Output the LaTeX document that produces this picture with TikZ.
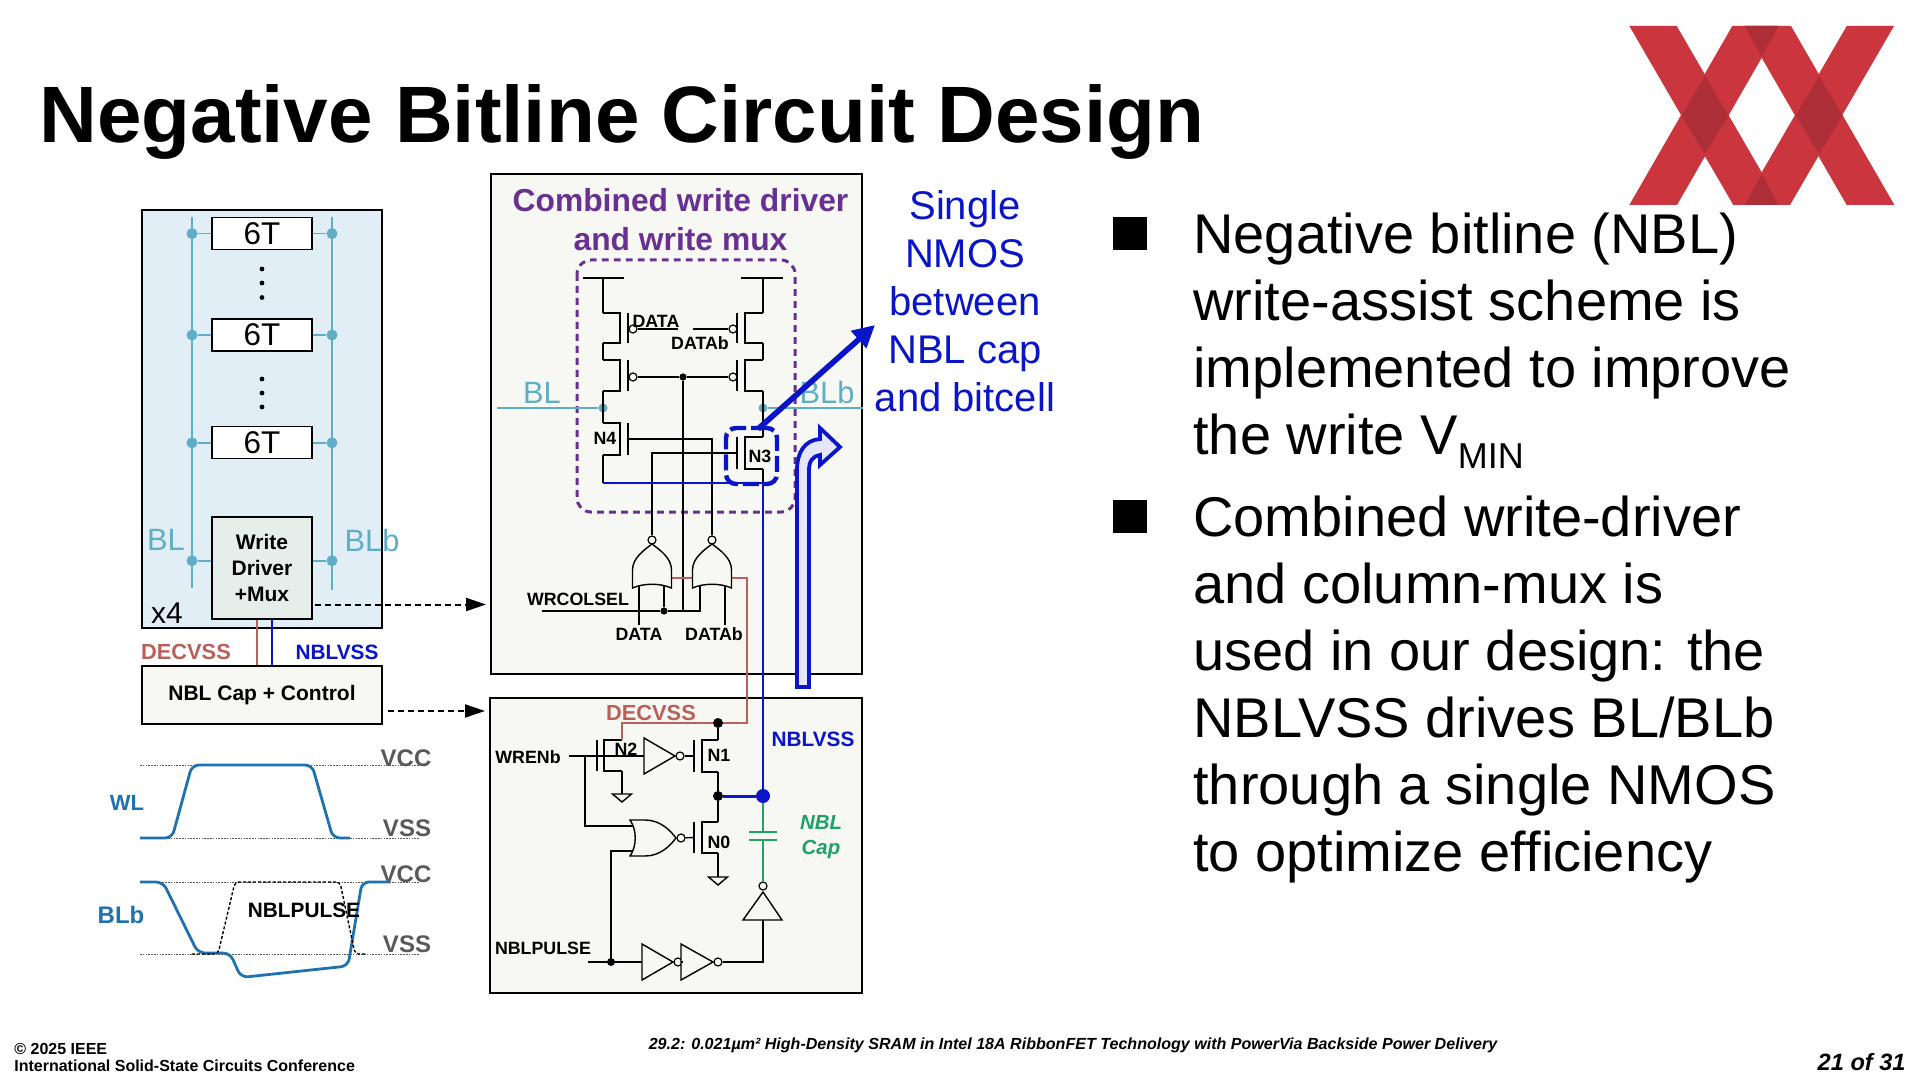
\documentclass[tikz,border=0pt]{standalone}
\usepackage{fontspec}
\setmainfont{Liberation Sans}
\usepackage{xcolor}
\usetikzlibrary{positioning}
\usetikzlibrary{shapes,arrows.meta}
\definecolor{panelgrey}{HTML}{F7F7F3}
\definecolor{panelblue}{HTML}{E2EEF6}
\definecolor{muxgrey}{HTML}{E6EEEC}
\definecolor{railteal}{HTML}{5FAEC6}
\definecolor{decred}{HTML}{B9605B}
\definecolor{nblblue}{HTML}{0A14C8}
\definecolor{muxpurple}{HTML}{673092}
\definecolor{capgreen}{HTML}{1FA265}
\definecolor{wavblue}{HTML}{1F72B0}
\definecolor{railgrey}{HTML}{595959}
\definecolor{logored}{HTML}{CB363E}
\definecolor{logodark}{HTML}{AD2E37}
\newcommand{\fsz}[1]{\fontsize{#1}{#1}\selectfont}
\tikzset{%
  block/.style    = {draw, line width=1pt, inner sep=0pt, fill=panelgrey},
  cellbox/.style  = {draw, line width=.6pt, inner sep=0pt, fill=white, minimum width=50pt,
    minimum height=16pt, font=\fsz{15.7}},
  lab/.style      = {inner sep=0pt, font=\bfseries\fsz{8.9}},
  rail/.style     = {railteal, line width=.9pt},
  tealdot/.style  = {circle, fill=railteal, inner sep=0pt, minimum size=5.5pt},
  blackdot/.style = {circle, fill=black, inner sep=0pt, minimum size=3.6pt},
  bub/.style      = {circle, draw, line width=.6pt, fill=panelgrey, inner sep=0pt, minimum size=4pt},
  wire/.style     = {line width=.7pt, line join=miter},
  gategrey/.style = {wire, fill=panelgrey},
  decw/.style     = {decred, line width=1.2pt},
  nblw/.style     = {nblblue, line width=1.3pt},
  capw/.style     = {capgreen, line width=.8pt},
  wave/.style     = {wavblue, line width=1.4pt, rounded corners=3.5pt},
  levl/.style     = {railgrey, line width=.5pt, dash pattern=on .8pt off .6pt},
  dasharr/.style  = {->, dashed, line width=1pt, dash pattern=on 3pt off 2pt, shorten >=2pt}
}

% transistor: channel and gate bar, leaves name-d, name-s, name-g
\newcommand{\fet}[6]{%
  \draw[wire] (#2,#5) -- (#3,#5) -- (#3,#6) -- (#2,#6);
  \draw[wire] (#4,#5) -- (#4,#6);
  \coordinate (#1-d) at (#2,#5);
  \coordinate (#1-s) at (#2,#6);
  \coordinate (#1-g) at (#4,#5/2+#6/2);
}

\begin{document}
\begin{tikzpicture}[x=.5pt, y=-.5pt, >={Triangle[length=10pt,width=6.5pt]}]
  \useasboundingbox (0,0) rectangle (1920,1080);

  \node[inner sep=0pt, anchor=base west, font=\bfseries\fsz{40}] (title) at (39,143) {Negative Bitline Circuit Design};

  % logo
  \foreach \xa/\xb/\xc in {1629.3/1676.7/1733.3, 1732.3/1780/1629.3, 1743.3/1791/1846.7, 1846.7/1894/1742.7} {
    \fill[logored] (\xa,26) -- (\xb,26) -- (\xb+\xc-\xa,205) -- (\xc,205) -- cycle;
  }
  \foreach \dx in {1705, 1819} {
    \fill[logodark] (\dx-23.5,115.5) -- (\dx,76) -- (\dx+23.5,115.5) -- (\dx,154) -- cycle;
  }
  \fill[logodark] (1745,26) -- (1778.3,26) -- (1761.7,56.7) -- cycle;
  \fill[logodark] (1745,205) -- (1778.3,205) -- (1761.7,174) -- cycle;

  % column
  \node[block, fill=panelblue, minimum width=120pt, minimum height=209pt] (col) at (262,419) {};
  \node[cellbox] (cella) at (262,233.6) {6T};
  \node[cellbox] (cellb) at (262,335) {6T};
  \node[cellbox] (cellc) at (262,442.8) {6T};
  \node[block, fill=muxgrey, minimum width=50pt, minimum height=51pt, align=center,
    font=\bfseries\fontsize{10.5}{13}\selectfont] (celld) at (262,567.6) {Write\\Driver\\+Mux};
  \draw[rail] (192,217) -- (192,588);
  \draw[rail] (332,217) -- (332,590);
  \foreach \n/\y in {a/233.6, b/335, c/442.8, d/560.7} {
    \node[tealdot] (bl\n) at (192,\y) {};
    \node[tealdot] (blb\n) at (332,\y) {};
    \draw[rail] (bl\n) -- (bl\n -| cell\n.west);
    \draw[rail] (blb\n) -- (blb\n -| cell\n.east);
  }
  \foreach \y in {269, 283, 297.5, 379, 393, 407} {
    \node[circle, fill=black, inner sep=0pt, minimum size=2.4pt] (vd\y) at (262,\y) {};
  }
  \node[inner sep=0pt, railteal, font=\fsz{15.4}] (bllab) at (166,540) {BL};
  \node[inner sep=0pt, railteal, font=\fsz{15.4}] (blblab) at (372,540) {BLb};
  \node[inner sep=0pt, font=\fsz{15}] (xfour) at (167,613) {x4};

  \node[block, minimum width=120pt, minimum height=29pt, font=\bfseries\fsz{10.5}] (capbox) at (262,695) {NBL Cap + Control};
  \draw[decw, line width=1.4pt] (celld.south -| 257,0) -- (capbox.north -| 257,0);
  \draw[nblw] (celld.south -| 272,0) -- (capbox.north -| 272,0);
  \node[lab, decred, font=\bfseries\fsz{10.9}] (declab) at (186,652) {DECVSS};
  \node[lab, nblblue, font=\bfseries\fsz{10.4}] (nbllab) at (337,652) {NBLVSS};

  % write driver and mux
  \node[block, minimum width=185.5pt, minimum height=250pt] (topbox) at (676.5,424) {};
  \node[block, minimum width=186pt, minimum height=147.5pt] (botbox) at (676,845.5) {};
  \coordinate (wdout) at (315,604.5);
  \coordinate (capout) at (388,711);
  \draw[dasharr] (wdout) -- (wdout -| topbox.west);
  \draw[dasharr] (capout) -- (capout -| botbox.west);
  \node[inner sep=0pt, muxpurple, align=center, font=\bfseries\fontsize{15.9}{19.5}\selectfont] (muxlab) at (680.5,220) {Combined write driver\\and write mux};
  \draw[muxpurple, line width=1.5pt, rounded corners=7pt, dash pattern=on 3.4pt off 2.6pt] (577,260) rectangle (795,512);

  \foreach \g/\ra/\ch/\ga/\yt/\yb in {p1/603/620/628/313/343, p2/603/620/628/360/391,
      p3/763/745/737/313/343, p4/763/745/737/360/391, n4/603/620/628/423/455, n3/763/745/737/437/469,
      n2/622/604/597/740/771, n1/718/702/694/740/772, n0/718/702/694/822/853} {
    \fet{\g}{\ra}{\ch}{\ga}{\yt}{\yb}
  }
  \coordinate (vl) at (603,278);
  \coordinate (vr) at (763,278);
  \node[tealdot, minimum size=4.5pt] (blj) at (603,408) {};
  \node[tealdot, minimum size=4.5pt] (blbj) at (763,408) {};
  \coordinate (blin) at (497,408);
  \coordinate (blbout) at (863,408);
  \coordinate (n4low) at (603,483);
  \coordinate (n3low) at (763,483);
  \draw[wire] ([xshift=-10pt]vl) -- ([xshift=10.5pt]vl);
  \draw[wire] ([xshift=-11pt]vr) -- ([xshift=10pt]vr);
  \draw[wire] (vl) -- (p1-d) (p1-s) -- (p2-d) (p2-s) -- (n4-d) (n4-s) -- (n4low);
  \draw[wire] (vr) -- (p3-d) (p3-s) -- (p4-d) (p4-s) -- (n3-d) (n3-s) -- (n3low);
  \draw[rail] (blin) -- (blj);
  \draw[rail] (blbj) -- (blbout);
  \node[inner sep=0pt, railteal, font=\fsz{15.4}] (bltop) at (542,393) {BL};
  \node[inner sep=0pt, railteal, font=\fsz{15.4}] (blbtop) at (827,392) {BLb};

  \node[bub] (b1) at (633,329) {};
  \node[bub] (b2) at (633,377) {};
  \node[bub] (b3) at (733,329) {};
  \node[bub] (b4) at (733,377) {};
  \node[blackdot] (midj) at (683,377) {};
  \coordinate (datl) at (678,329);
  \coordinate (datr) at (693,329);
  \draw[wire] (b1) -- (datl);
  \draw[wire] (datr) -- (b3);
  \draw[wire] (b2) -- (midj) -- (b4);
  \node[lab] (dat1) at (656,321) {DATA};
  \node[lab] (dat2) at (700,343) {DATAb};
  \node[lab] (n4lab) at (605,438) {N4};
  \node[lab] (n3lab) at (760,456) {N3};

  % gates at the foot of the mux
  \coordinate (wrs) at (542,611);
  \coordinate (wre) at (700,611);
  \node[blackdot] (wrj) at (664,611) {};
  \coordinate (da1) at (639,625);
  \coordinate (da2) at (725,625);
  \draw[wire] (wrs) -- (wrj) -- (wre) -- (700,585);
  \draw[wire] (wrj) -- (664,585);
  \draw[wire] (da1) -- (639,585);
  \draw[wire] (da2) -- (725,585);
  \draw[wire] (midj) -- (midj |- wrs);
  \coordinate (fa) at (672,578);
  \coordinate (fb) at (693,578);
  \coordinate (fc) at (732,578);
  \coordinate (dectr) at (747,723);
  \node[blackdot, minimum size=5pt] (decj) at (718,723) {};
  \draw[decw] (fa) -- (fb);
  \draw[decw] (fc) -| (dectr) -- (decj) -- (622,723) -- (n2-d);
  \foreach \g/\cx in {nora/652, norb/712} {
    \draw[gategrey] (\cx-19.5,588) -- (\cx-19.5,570) .. controls (\cx-19.5,558) and (\cx-8,550) .. (\cx,544)
      .. controls (\cx+8,550) and (\cx+19.5,558) .. (\cx+19.5,570) -- (\cx+19.5,588)
      .. controls (\cx+8,583) and (\cx-8,583) .. cycle;
    \node[bub] (\g-o) at (\cx,540) {};
  }
  \draw[wire] (n4-g) -| (norb-o);
  \draw[wire] (n3-g) -| (nora-o);
  \node[lab] (wrlab) at (578,599) {WRCOLSEL};
  \node[lab] (da1lab) at (639,634) {DATA};
  \node[lab] (da2lab) at (714,634) {DATAb};

  % NBL control
  \node[lab, decred, font=\bfseries\fsz{10.9}] (dec2) at (651,713) {DECVSS};
  \node[lab, nblblue, font=\bfseries\fsz{10.4}] (nbl2) at (813,739) {NBLVSS};
  \node[lab] (wrenlab) at (528,757) {WRENb};
  \node[lab] (pulselab) at (543,948) {NBLPULSE};
  \foreach \g/\xa/\ym/\xb in {i1/644/756/675, i2/642/962/673, i3/681/962/713} {
    \coordinate (\g-i) at (\xa,\ym);
    \node[bub] (\g-o) at (\xb+5,\ym) {};
  }
  \coordinate (wren) at (569,756);
  \coordinate (wrenb) at (585,756);
  \coordinate (norin) at (634,826);
  \coordinate (pulse) at (588,962);
  \node[blackdot, minimum size=4pt] (pulsej) at (611,962) {};
  \draw[wire] (wren) -- (i1-i);
  \draw[wire] (wrenb) |- (norin);
  \draw[wire] (pulse) -- (pulsej) -- (i2-i);
  \draw[wire] (pulsej) |- (634,851);
  \foreach \g/\xa/\ym/\xb in {i1/644/756/675, i2/642/962/673, i3/681/962/713} {
    \draw[gategrey] (\xa,\ym-18) -- (\xa,\ym+18) -- (\xb,\ym) -- cycle;
  }
  \draw[gategrey] (630,820) -- (645,820) .. controls (660,820) and (670,830) .. (676,838)
    .. controls (670,846) and (660,856) .. (645,856) -- (630,856) .. controls (637,846) and (637,830) .. cycle;
  \node[bub] (nc-o) at (681,838) {};
  \draw[wire] (i1-o) -- (n1-g);
  \draw[wire] (nc-o) -- (n0-g);
  \draw[wire] (decj) -- (n1-d);
  \node[blackdot, minimum size=5pt] (outj) at (718,796) {};
  \draw[wire] (n1-s) -- (outj) -- (n0-d);
  \foreach \g/\gx/\gy in {g2/622/794, g0/718/877} {
    \coordinate (\g) at (\gx,\gy);
    \draw[wire] (\gx-9.5,\gy) -- (\gx+9.5,\gy) -- (\gx,\gy+8) -- cycle;
  }
  \draw[wire] (n2-s) -- (g2);
  \draw[wire] (n0-s) -- (g0);
  \node[lab] (n2lab) at (626,749) {N2};
  \node[lab] (n1lab) at (719,755) {N1};
  \node[lab] (n0lab) at (719,842) {N0};

  \draw[wire] (i2-o) -- (i3-i);
  \coordinate (i4in) at (763,920);
  \draw[wire] (i3-o) -| (i4in);
  \draw[gategrey] (743,920) -- (782,920) -- (763,892) -- cycle;
  \node[bub] (i4-o) at (763,886) {};

  % cap and NBLVSS
  \node[circle, fill=nblblue, inner sep=0pt, minimum size=7pt] (nblj) at (763,796) {};
  \coordinate (capt) at (763,832);
  \coordinate (capb) at (763,840);
  \draw[capw] (i4-o) -- (capb) (capt) -- (nblj);
  \draw[capw] ([xshift=-7pt]capt) -- ([xshift=7pt]capt);
  \draw[capw] ([xshift=-7pt]capb) -- ([xshift=7pt]capb);
  \draw[nblw] (n4low) -- (n3low) -- (nblj);
  \draw[nblw, line width=1.5pt] (outj) -- (nblj);
  \node[lab, capgreen, align=center, font=\bfseries\itshape\fontsize{10.2}{12.5}\selectfont] (caplab) at (821,837) {NBL\\Cap};

  % call-outs
  \node[draw=nblblue, line width=2.2pt, rounded corners=5pt, dash pattern=on 8pt off 2.5pt,
    minimum width=25.5pt, minimum height=28pt, inner sep=0pt] (n3box) at (751.5,456) {};
  \coordinate (n3top) at (758,429);
  \coordinate (n3tip) at (875,325);
  \draw[-{Triangle[length=11pt,width=11pt]}, nblblue, line width=2.8pt] (n3top) -- (n3tip);
  \draw[nblblue, line width=1.9pt, fill=blue!10, line join=miter] (797,687) -- (809,687) -- (809,470)
    .. controls (809,461) and (813,456) .. (820,455) -- (820,465) -- (840,447) -- (820,428) -- (820,439)
    .. controls (805,440) and (797,452) .. (797,470) -- cycle;
  \node[inner sep=0pt, nblblue, align=center, anchor=north, font=\fontsize{20}{24}\selectfont] (singlelab) at (965,190.5)
    {Single\\NMOS\\between\\NBL cap\\and bitcell};

  % bullets
  \node[fill=black, minimum width=17pt, minimum height=16.5pt, inner sep=0pt] (sqa) at (1130,234) {};
  \node[fill=black, minimum width=17pt, minimum height=16.5pt, inner sep=0pt] (sqb) at (1130,516) {};
  \node[inner sep=0pt, anchor=north west, align=left, font=\fontsize{28}{33.5}\selectfont] (txta) at (1193,213)
    {Negative bitline (NBL)\\write-assist scheme is\\implemented to improve\\the write V\raisebox{-7pt}{\fsz{18}MIN}};
  \node[inner sep=0pt, anchor=north west, align=left, font=\fontsize{28}{33.5}\selectfont] (txtb) at (1193,496)
    {Combined write-driver\\and column-mux is\\used in our design: the\\NBLVSS drives BL/BLb\\through a single NMOS\\to optimize efficiency};

  % waveforms
  \foreach \y in {765, 838, 882, 954} {
    \draw[levl] (140,\y) -- (420,\y);
  }
  \node[lab, railgrey, font=\bfseries\fsz{12}] (vcca) at (406,758) {VCC};
  \node[lab, railgrey, font=\bfseries\fsz{12}] (vssa) at (407,828) {VSS};
  \node[lab, railgrey, font=\bfseries\fsz{12}] (vccb) at (406,874) {VCC};
  \node[lab, railgrey, font=\bfseries\fsz{12}] (vssb) at (407,944) {VSS};
  \node[lab, wavblue, font=\bfseries\fsz{11}] (wllab) at (127,803) {WL};
  \node[lab, wavblue, font=\bfseries\fsz{12}] (blblab2) at (121,915) {BLb};
  \draw[wave] (140,838) -- (172,838) -- (192,765) -- (312,765) -- (333,838) -- (350,838);
  \draw[wave] (140,882) -- (163,882) -- (198,953) -- (230,953) -- (241,977.5) -- (348,966) -- (362,882) -- (390,882);
  \draw[black, line width=.7pt, dash pattern=on 1.5pt off 1pt, rounded corners=2pt]
    (192,954) -- (218,954) -- (235,882) -- (340,882) -- (355,954) -- (367,954);
  \node[lab, font=\bfseries\fsz{10.4}] (pulsewav) at (304,910) {NBLPULSE};

  % footer
  \node[lab, anchor=west, font=\bfseries\fsz{8}] (copy) at (14,1049) {© 2025 IEEE};
  \node[lab, anchor=west, font=\bfseries\fsz{8}] (isscc) at (14,1066) {International Solid-State Circuits Conference};
  \node[lab, font=\bfseries\itshape\fsz{8.03}] (sess) at (1073,1045.5) {29.2: 0.021µm² High-Density SRAM in Intel 18A RibbonFET Technology with PowerVia Backside Power Delivery};
  \node[lab, anchor=east, font=\bfseries\itshape\fsz{11.8}] (pageno) at (1906,1062) {21 of 31};
\end{tikzpicture}
\end{document}
